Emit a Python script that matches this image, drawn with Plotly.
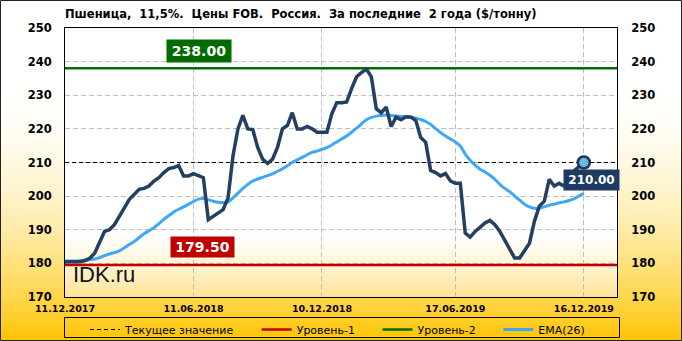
import plotly.graph_objects as go
import pandas as pd

# ---------------- data ----------------
dates = pd.date_range("2017-12-11", periods=106, freq="7D")
price = [180.5, 180.5, 180.5, 180.5, 180.8,
         181.5, 183.0, 186.0, 189.5, 190.0,
         191.5, 194.0, 196.5, 199.0, 200.5,
         202.0, 202.3, 203.0, 204.5, 205.5,
         207.0, 208.2, 208.5, 209.1, 206.0,
         206.0, 206.7, 206.0, 205.5, 193.0,
         194.0, 195.0, 196.0, 199.5, 212.0,
         220.0, 224.0, 220.0, 219.8, 214.5,
         211.0, 209.7, 211.0, 214.5, 220.0,
         221.0, 224.8, 220.0, 220.0, 220.7,
         220.0, 219.0, 219.0, 219.0, 224.5,
         227.8, 227.8, 228.0, 232.0, 235.5,
         236.7, 237.8, 235.5, 226.0, 224.8,
         226.5, 220.7, 223.5, 222.7, 223.6,
         223.5, 222.5, 217.4, 216.0, 207.6,
         207.0, 206.0, 206.7, 204.5, 203.8,
         203.8, 189.0, 187.8, 189.5, 190.7,
         192.0, 192.8, 191.5, 189.5, 187.0,
         184.5, 181.6, 181.6, 184.0, 186.0,
         192.5, 197.0, 198.5, 205.0, 203.0,
         203.8, 203.0, 204.7, 207.5, 208.8, 210.0]
ema26 = [180.7, 180.7, 180.7, 180.8, 180.9,
         181.1, 181.3, 181.7, 182.3, 182.8,
         183.2, 183.7, 184.6, 185.6, 186.5,
         187.7, 188.8, 189.7, 190.6, 191.8,
         193.1, 194.2, 195.3, 196.1, 196.8,
         197.6, 198.4, 199.1, 199.3, 198.9,
         198.5, 198.2, 198.1, 198.3, 199.5,
         200.9, 202.3, 203.5, 204.5, 205.1,
         205.6, 206.1, 206.6, 207.4, 208.1,
         209.0, 210.0, 210.8, 211.5, 212.3,
         213.0, 213.4, 213.9, 214.4, 215.2,
         216.1, 217.0, 217.9, 219.0, 220.2,
         221.5, 222.7, 223.4, 223.8, 224.0,
         224.1, 224.0, 223.8, 223.7, 223.6,
         223.5, 223.2, 222.8, 222.2, 221.3,
         220.1, 218.9, 217.9, 217.0, 216.1,
         214.9, 212.5, 210.7, 209.2, 208.0,
         207.2, 206.2, 205.0, 203.5, 202.3,
         201.3, 200.0, 198.8, 197.6, 196.8,
         196.4, 196.4, 196.8, 197.3, 197.6,
         198.0, 198.3, 198.7, 199.2, 200.0, 200.8]
current_value = 210.0
level_1 = 179.5
level_2 = 238.0
tick_dates = ["2017-12-11", "2018-06-11", "2018-12-10", "2019-06-17", "2019-12-16"]
tick_labels = ["11.12.2017", "11.06.2018", "10.12.2018", "17.06.2019", "16.12.2019"]
y_ticks = [170, 180, 190, 200, 210, 220, 230, 240, 250]
x_range = ["2017-12-11", "2020-02-01"]
y_range = [170, 250]
title = "Пшеница,  11,5%.  Цены FOB.  Россия.  За последние  2 года ($/тонну)"
legend_names = ["Текущее значение", "Уровень-1", "Уровень-2", "EMA(26)"]

# ---------------- layout geometry ----------------
W, H = 682, 341
L, R, T, B = 65, 65, 28, 44
PW, PH = W - L - R, H - T - B


def px_x(px):
    return (px - L) / PW


def px_y(py):
    return (H - B - py) / PH


NAVY = "#243F60"
EMA_C = "#3FA7F5"
RED = "#C00000"
GREEN = "#006C00"
PAD = "\u00a0" * 5

fig = go.Figure()

# reference lines (legend entries)
fig.add_trace(go.Scatter(x=x_range, y=[current_value] * 2, mode="lines",
                         line=dict(color="black", width=1, dash="4px,3px"),
                         name=legend_names[0] + PAD, hoverinfo="skip"))
fig.add_trace(go.Scatter(x=x_range, y=[level_1] * 2, mode="lines",
                         line=dict(color=RED, width=2.5),
                         name=legend_names[1] + PAD, hoverinfo="skip"))
fig.add_trace(go.Scatter(x=x_range, y=[level_2] * 2, mode="lines",
                         line=dict(color=GREEN, width=2.5),
                         name=legend_names[2] + PAD, hoverinfo="skip"))
fig.add_trace(go.Scatter(x=dates, y=ema26, mode="lines",
                         line=dict(color=EMA_C, width=3, shape="spline", smoothing=0.6),
                         name=legend_names[3]))
fig.add_trace(go.Scatter(x=dates, y=price, mode="lines",
                         line=dict(color=NAVY, width=3.5),
                         name="Пшеница", showlegend=False))
fig.add_trace(go.Scatter(x=[dates[-1]], y=[price[-1]], mode="markers",
                         marker=dict(size=12, color="#6DB6E2",
                                     line=dict(color="#1B3558", width=2.5)),
                         showlegend=False, hoverinfo="skip"))
# invisible trace for the right axis
fig.add_trace(go.Scatter(x=[dates[0]], y=[y_range[0]], yaxis="y2", mode="markers",
                         marker=dict(opacity=0), showlegend=False, hoverinfo="skip"))

# ---------------- background gradients ----------------
shapes = []
x0p, x1p = px_x(0), px_x(W)
step = 3
for py in range(60, H, step):
    t = max(0.0, (py + step / 2 - 70) / (H - 70))
    f = min(1.0, t ** 2.0)
    g = round(255 - (255 - 196) * f)
    b = round(255 - 255 * f)
    shapes.append(dict(type="rect", xref="paper", yref="paper",
                       x0=x0p, x1=x1p, y0=px_y(py + step), y1=px_y(py),
                       fillcolor=f"rgb(255,{g},{b})", line=dict(width=0),
                       layer="below"))
# plot area: white with light-yellow fade at bottom
shapes.append(dict(type="rect", xref="paper", yref="paper", x0=0, x1=1, y0=0, y1=1,
                   fillcolor="white", line=dict(width=0), layer="below"))
pstep = 2
top_fade = 234
for py in range(top_fade, H - B, pstep):
    f = (py + pstep / 2 - top_fade) / (H - B - top_fade)
    f = min(1.0, f ** 1.2)
    g = round(255 - (255 - 228) * f)
    b = round(255 - (255 - 150) * f)
    shapes.append(dict(type="rect", xref="paper", yref="paper",
                       x0=0, x1=1, y0=max(0, px_y(py + pstep)), y1=px_y(py),
                       fillcolor=f"rgb(255,{g},{b})", line=dict(width=0),
                       layer="below"))
# legend frame
shapes.append(dict(type="rect", xref="paper", yref="paper",
                   x0=px_x(64.5), x1=px_x(619.5), y0=px_y(337.5), y1=px_y(317.5),
                   line=dict(color="black", width=1), fillcolor="rgba(0,0,0,0)",
                   layer="above"))
# outer border
shapes.append(dict(type="rect", xref="paper", yref="paper",
                   x0=px_x(0.5), x1=px_x(W - 0.5), y0=px_y(H - 0.5), y1=px_y(0.5),
                   line=dict(color="#222", width=1), fillcolor="rgba(0,0,0,0)",
                   layer="above"))

tick_font = dict(family="DejaVu Sans", size=11.5, color="black", weight="bold")
date_font = dict(family="DejaVu Sans", size=9.5, color="black", weight="bold")
lab_font = dict(family="DejaVu Sans", size=14, color="white", weight="bold")

annotations = [
    dict(text=title, xref="paper", yref="paper", x=px_x(63), y=px_y(14),
         xanchor="left", yanchor="middle", showarrow=False,
         font=dict(family="DejaVu Sans", size=11.5, color="black", weight="bold")),
    dict(text=f"{level_2:.2f}", xref="x", yref="y", x="2018-06-19", y=level_2,
         yshift=17, showarrow=False, bgcolor=GREEN, width=62, height=20, borderpad=1,
         font=lab_font),
    dict(text=f"{level_1:.2f}", xref="x", yref="y", x="2018-06-24", y=level_1,
         yshift=18, showarrow=False, bgcolor=RED, width=61, height=18, borderpad=1,
         font=lab_font),
    dict(text=f"{current_value:.2f}", xref="paper", yref="y", x=px_x(619.5),
         y=current_value, yshift=-17, showarrow=False, bgcolor="#1D3A62",
         width=53, height=18, borderpad=1,
         font=dict(family="DejaVu Sans", size=12, color="white", weight="bold")),
    dict(text="IDK.ru", xref="paper", yref="paper", x=px_x(71), y=px_y(274),
         xanchor="left", yanchor="middle", showarrow=False,
         font=dict(family="Liberation Sans", size=22, color="#111")),
]

fig.update_layout(
    width=W, height=H,
    margin=dict(l=L, r=R, t=T, b=B, pad=0, autoexpand=False),
    paper_bgcolor="white", plot_bgcolor="white",
    shapes=shapes, annotations=annotations,
    showlegend=True,
    legend=dict(orientation="h", x=px_x(85), y=px_y(315), xanchor="left", yanchor="top",
                borderwidth=0, bgcolor="rgba(0,0,0,0)",
                font=dict(family="DejaVu Sans", size=11, color="black"),
                itemwidth=30, tracegroupgap=0),
    xaxis=dict(type="date", range=x_range, tickvals=tick_dates, ticktext=tick_labels,
               showgrid=True, gridcolor="#BDBDBD", griddash="5px,3px", gridwidth=1,
               showline=True, linecolor="black", linewidth=1, mirror=True,
               ticks="outside", ticklen=3, tickcolor="rgba(0,0,0,0)",
               tickfont=date_font, zeroline=False),
    yaxis=dict(range=y_range, tickvals=y_ticks, showgrid=True, gridcolor="#BDBDBD",
               griddash="5px,3px", gridwidth=1, showline=True, linecolor="black",
               linewidth=1, mirror=True, ticks="outside", ticklen=10,
               tickcolor="rgba(0,0,0,0)", tickfont=tick_font, zeroline=False),
    yaxis2=dict(range=y_range, tickvals=y_ticks, overlaying="y", side="right",
                showgrid=False, showline=False, ticks="outside", ticklen=11,
                tickcolor="rgba(0,0,0,0)", tickfont=tick_font, zeroline=False),
)

fig.write_html("out.html")
